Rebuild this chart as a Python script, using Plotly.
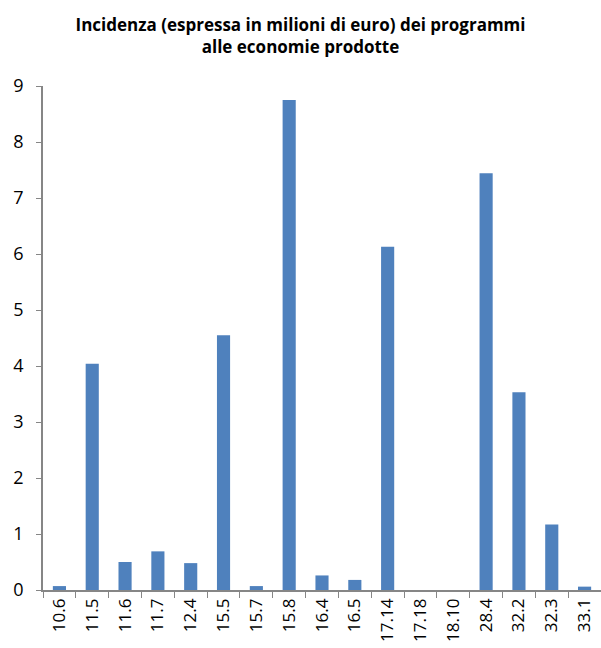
import plotly.graph_objects as go

categories = ["10.6", "11.5", "11.6", "11.7", "12.4", "15.5", "15.7", "15.8", "16.4",
              "16.5", "17.14", "17.18", "18.10", "28.4", "32.2", "32.3", "33.1"]
values = [0.07, 4.04, 0.50, 0.69, 0.48, 4.55, 0.07, 8.75, 0.26,
          0.18, 6.13, 0.0, 0.0, 7.44, 3.53, 1.17, 0.06]
y_ticks = [0, 1, 2, 3, 4, 5, 6, 7, 8, 9]

title_text = "<b>Incidenza (espressa in milioni di euro) dei programmi<br>alle economie prodotte</b>"

fig = go.Figure(go.Bar(x=categories, y=values, marker=dict(color="#4F81BD", line=dict(width=0))))

fig.update_layout(
    width=601, height=648,
    margin=dict(l=43, r=0, t=86, b=58),
    paper_bgcolor="white", plot_bgcolor="white",
    bargap=0.6,
    showlegend=False,
    font=dict(family="Open Sans, Liberation Sans, sans-serif", color="black"),
    title=dict(text=title_text, x=0.5, xanchor="center", y=0.952, yanchor="top",
               font=dict(size=17, color="black")),
)
fig.update_xaxes(
    type="category", tickangle=-90, tickson="boundaries",
    showline=True, linecolor="#868686", linewidth=1.5,
    ticks="outside", ticklen=6, tickcolor="#868686",
    tickfont=dict(size=17), showgrid=False,
)
fig.update_yaxes(
    range=[0, 9], tickvals=y_ticks, showline=True, linecolor="#868686", linewidth=1.5,
    ticks="outside", ticklen=5, tickcolor="#868686",
    tickfont=dict(size=18), showgrid=False, zeroline=False,
    ticklabelstandoff=9,
)

fig.write_html("out.html")
